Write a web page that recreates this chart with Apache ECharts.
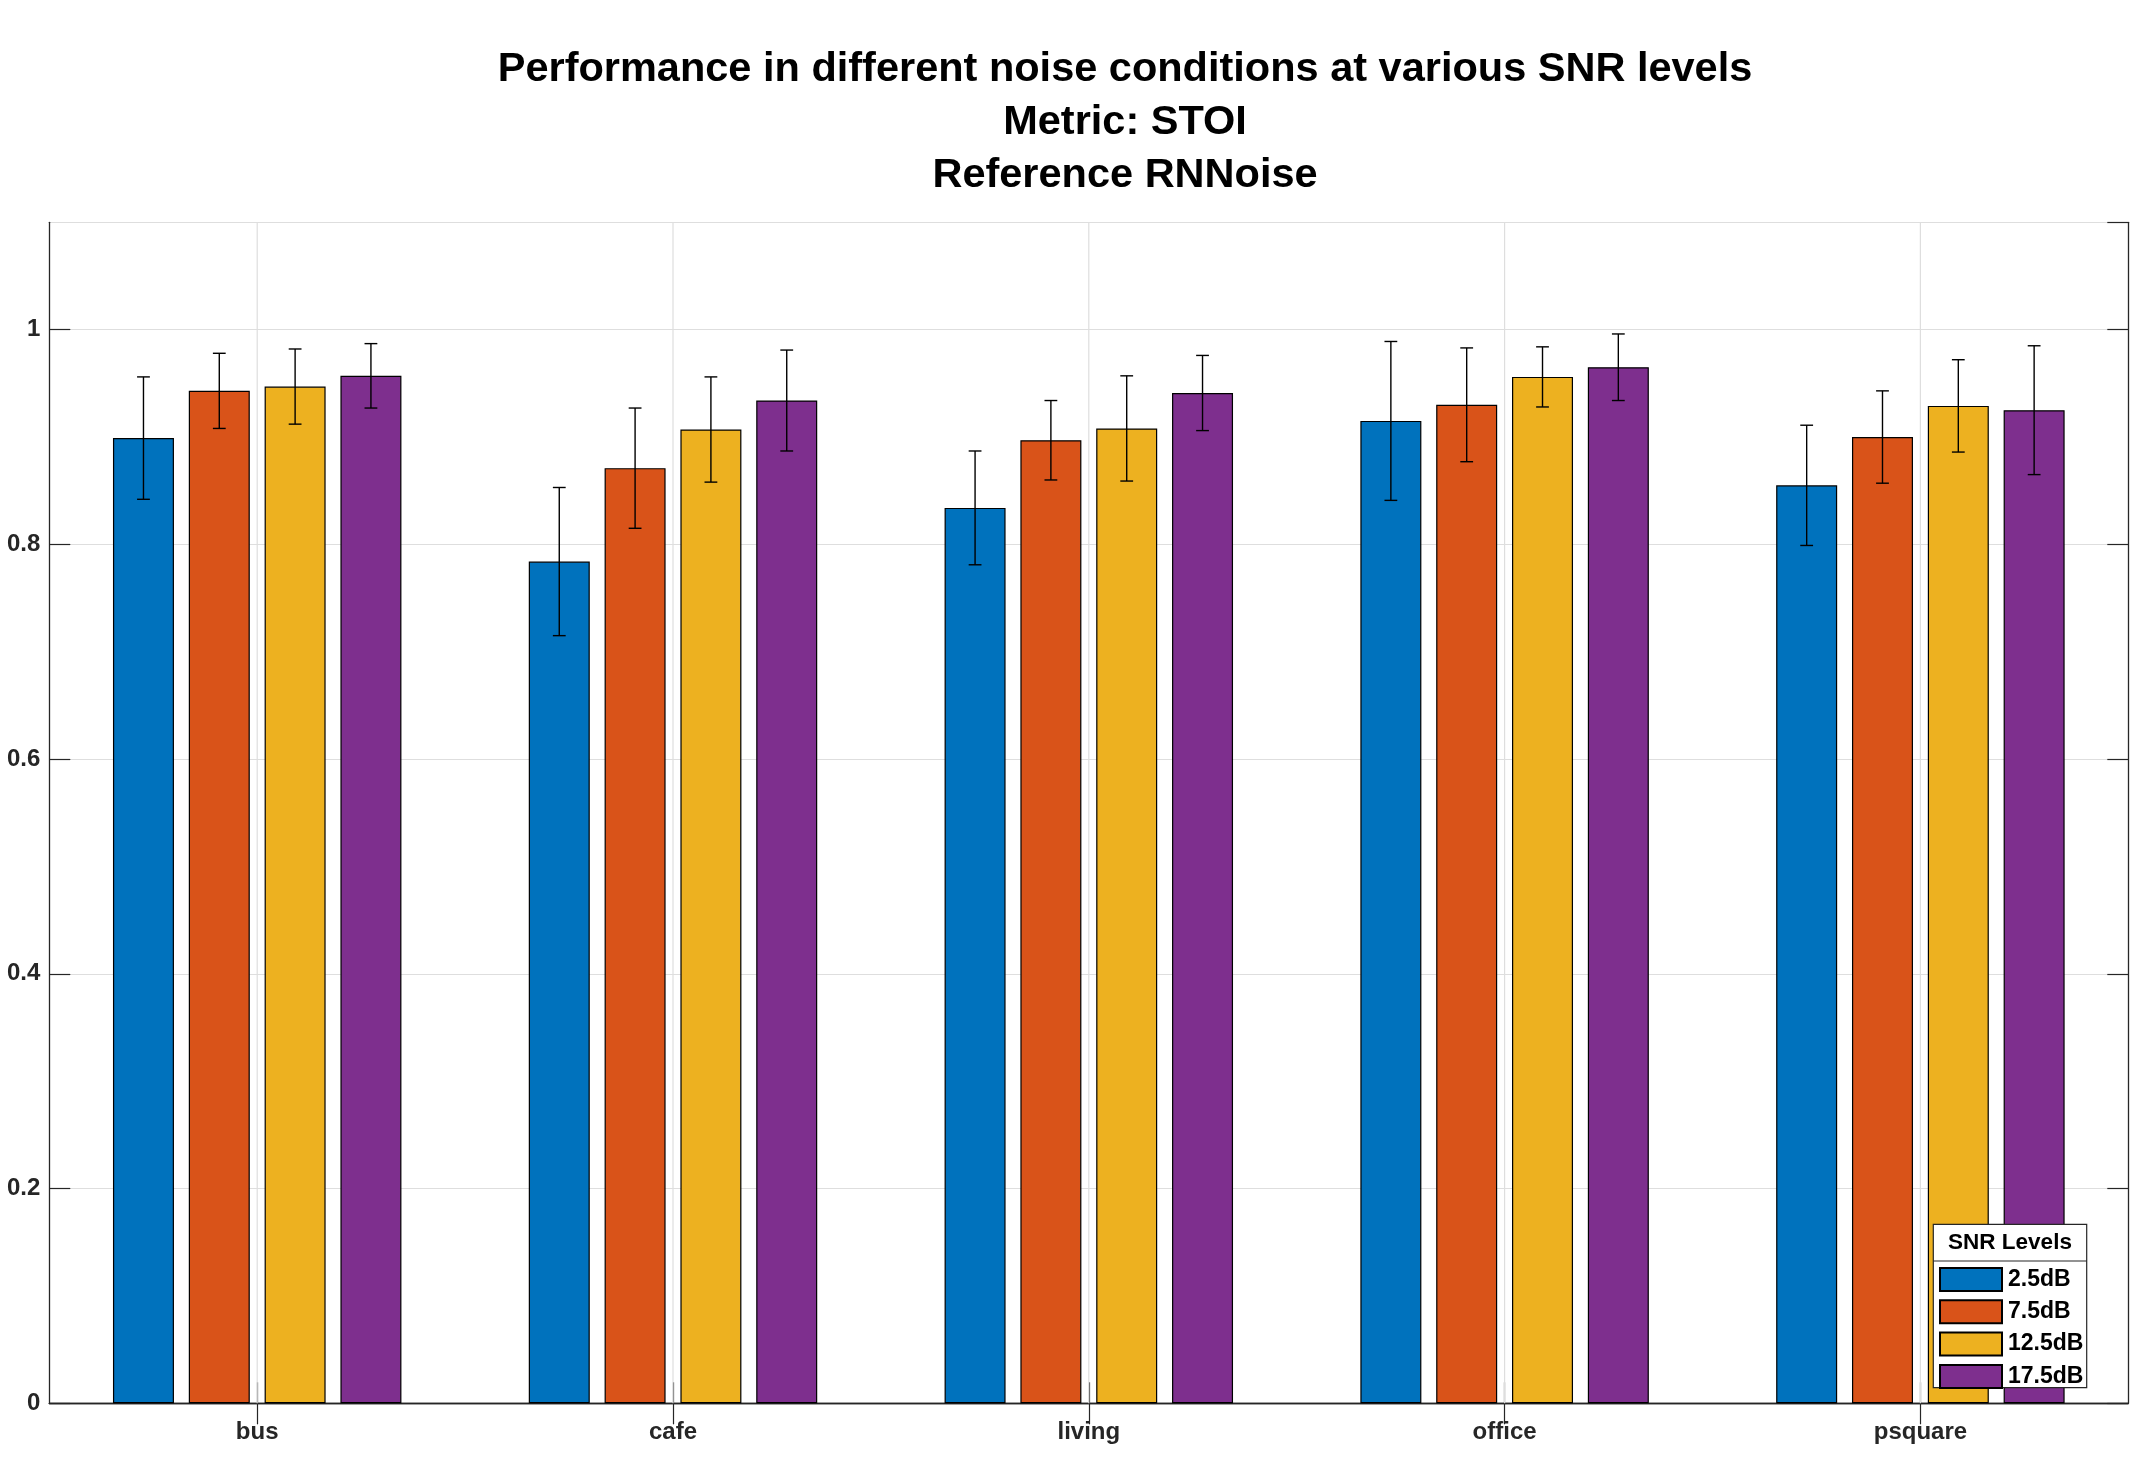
<!DOCTYPE html>
<html>
<head>
<meta charset="utf-8">
<script src="https://cdn.jsdelivr.net/npm/echarts@6/dist/echarts.min.js"></script>
<style>
html,body{margin:0;padding:0;background:#fff;}
#chart{width:2136px;height:1458px;}
</style>
</head>
<body>
<div id="chart"></div>
<script>
// ---- data ----
const categories = ['bus', 'cafe', 'living', 'office', 'psquare'];
const seriesNames = ['2.5dB', '7.5dB', '12.5dB', '17.5dB'];
const mean25  = [0.899, 0.784, 0.834, 0.915, 0.855];
const err25   = [0.057, 0.069, 0.053, 0.074, 0.056];
const mean75  = [0.943, 0.871, 0.897, 0.930, 0.900];
const err75   = [0.035, 0.056, 0.037, 0.053, 0.043];
const mean125 = [0.947, 0.907, 0.908, 0.956, 0.929];
const err125  = [0.035, 0.049, 0.049, 0.028, 0.043];
const mean175 = [0.957, 0.934, 0.941, 0.965, 0.925];
const err175  = [0.030, 0.047, 0.035, 0.031, 0.060];
const yTicks = [0, 0.2, 0.4, 0.6, 0.8, 1];
const titleLines = ['Performance in different noise conditions at various SNR levels', 'Metric: STOI', 'Reference RNNoise'];
const legendTitle = 'SNR Levels';

// ---- style ----
const colors = ['#0072BD', '#D95319', '#EDB120', '#7E2F8E'];
const FONT = '"Liberation Sans", Arial, Helvetica, sans-serif';
const AXIS_COLOR = '#262626';
const GRID_COLOR = '#dedede';
const BAR_W = 0.1467;   // fraction of category band
const BAR_GAP = 0.243;  // fraction of bar width

const means = [mean25, mean75, mean125, mean175];
const errs = [err25, err75, err125, err175];

const errData = [];
means.forEach((m, s) => {
  m.forEach((v, i) => {
    errData.push([i, s, v - errs[s][i], v + errs[s][i]]);
  });
});
const gridData = categories.map((c, i) => [i, 0]);

const chart = echarts.init(document.getElementById('chart'), null, {renderer: 'canvas'});

const barSeries = seriesNames.map((name, s) => ({
  name: name,
  type: 'bar',
  data: means[s],
  barWidth: (BAR_W * 100).toFixed(2) + '%',
  barGap: (BAR_GAP * 100).toFixed(1) + '%',
  itemStyle: {color: colors[s], borderColor: '#000', borderWidth: 1.2},
  emphasis: {disabled: true},
  z: 2
}));

const option = {
  backgroundColor: '#fff',
  animation: false,
  title: {
    text: titleLines.join('\n'),
    left: 1120,
    top: 38,
    textAlign: 'center',
    textStyle: {fontFamily: FONT, fontSize: 41.5, fontWeight: 'bold', color: '#000', lineHeight: 53}
  },
  grid: {left: 49.3, right: 7.7, top: 222.3, bottom: 54.7, containLabel: false},
  xAxis: [{
    type: 'category',
    data: categories,
    boundaryGap: true,
    axisLine: {show: true, lineStyle: {color: AXIS_COLOR, width: 1.3}},
    axisTick: {show: true, inside: true, alignWithLabel: true, length: 21, lineStyle: {color: AXIS_COLOR, width: 1.2}},
    axisLabel: {fontFamily: FONT, fontSize: 24, fontWeight: 'bold', color: AXIS_COLOR, margin: 17},
    splitLine: {show: false}
  }, {
    type: 'category',
    data: categories,
    position: 'top',
    boundaryGap: true,
    axisLine: {show: true, lineStyle: {color: AXIS_COLOR, width: 1.3}},
    axisTick: {show: true, inside: true, alignWithLabel: true, length: 21, lineStyle: {color: AXIS_COLOR, width: 1.2}},
    axisLabel: {show: false},
    splitLine: {show: false}
  }],
  yAxis: [{
    type: 'value',
    min: 0,
    max: 1.1,
    interval: 0.2,
    axisLine: {show: true, lineStyle: {color: AXIS_COLOR, width: 1.3}},
    axisTick: {show: true, inside: true, length: 21, lineStyle: {color: AXIS_COLOR, width: 1.2}},
    axisLabel: {
      fontFamily: FONT, fontSize: 24, fontWeight: 'bold', color: AXIS_COLOR, margin: 9,
      showMaxLabel: false,
      formatter: v => (yTicks.some(t => Math.abs(t - v) < 1e-9) ? (v === 0 ? '0' : String(+v.toFixed(1))) : '')
    },
    splitLine: {show: true, lineStyle: {color: GRID_COLOR, width: 1.2}}
  }, {
    type: 'value',
    position: 'right',
    min: 0,
    max: 1.1,
    interval: 0.2,
    axisLine: {show: true, lineStyle: {color: AXIS_COLOR, width: 1.3}},
    axisTick: {show: true, inside: true, length: 21, lineStyle: {color: AXIS_COLOR, width: 1.2}},
    axisLabel: {show: false},
    splitLine: {show: false}
  }],
  legend: {
    data: seriesNames,
    orient: 'vertical',
    left: 1939,
    top: 1267,
    padding: 0,
    itemWidth: 62,
    itemHeight: 23,
    itemGap: 7.3,
    icon: 'rect',
    selectedMode: false,
    textStyle: {fontFamily: FONT, fontSize: 23, fontWeight: 'bold', color: '#000', padding: [0, 0, 0, 1]},
    z: 100
  },
  graphic: {
    elements: [{
      type: 'rect',
      z: 50,
      shape: {x: 1933.3, y: 1224.3, width: 153.4, height: 163.4},
      style: {fill: '#fff', stroke: '#262626', lineWidth: 1.2}
    }, {
      type: 'line',
      z: 51,
      shape: {x1: 1933.3, y1: 1261, x2: 2086.7, y2: 1261},
      style: {stroke: '#262626', lineWidth: 1.2}
    }, {
      type: 'text',
      z: 51,
      x: 2010,
      y: 1243,
      style: {text: legendTitle, fontFamily: FONT, fontSize: 22.5, fontWeight: 'bold', fill: '#000', align: 'center', verticalAlign: 'middle'}
    }]
  },
  series: [{
    type: 'custom',
    name: 'xgrid',
    data: gridData,
    z: 1,
    silent: true,
    encode: {x: 0, y: 1},
    renderItem: function (params, api) {
      const x = api.coord([api.value(0), 0])[0];
      const cs = params.coordSys;
      return {
        type: 'line',
        shape: {x1: x, y1: cs.y, x2: x, y2: cs.y + cs.height},
        style: {stroke: GRID_COLOR, lineWidth: 1.2}
      };
    }
  }].concat(barSeries, [{
    type: 'custom',
    name: 'errorbars',
    data: errData,
    z: 5,
    silent: true,
    encode: {x: 0, y: [2, 3]},
    renderItem: function (params, api) {
      const ci = api.value(0);
      const s = api.value(1);
      const center = api.coord([ci, 0])[0];
      const band = api.size([1, 0])[0];
      const w = band * BAR_W;
      const gap = w * BAR_GAP;
      const cx = center + (s - 1.5) * (w + gap);
      const yLo = api.coord([ci, api.value(2)])[1];
      const yHi = api.coord([ci, api.value(3)])[1];
      const cap = 6.4;
      const st = {stroke: '#000', lineWidth: 1.4, fill: null};
      return {
        type: 'group',
        children: [
          {type: 'line', shape: {x1: cx, y1: yLo, x2: cx, y2: yHi}, style: st},
          {type: 'line', shape: {x1: cx - cap, y1: yHi, x2: cx + cap, y2: yHi}, style: st},
          {type: 'line', shape: {x1: cx - cap, y1: yLo, x2: cx + cap, y2: yLo}, style: st}
        ]
      };
    }
  }])
};

chart.setOption(option);
</script>
</body>
</html>
